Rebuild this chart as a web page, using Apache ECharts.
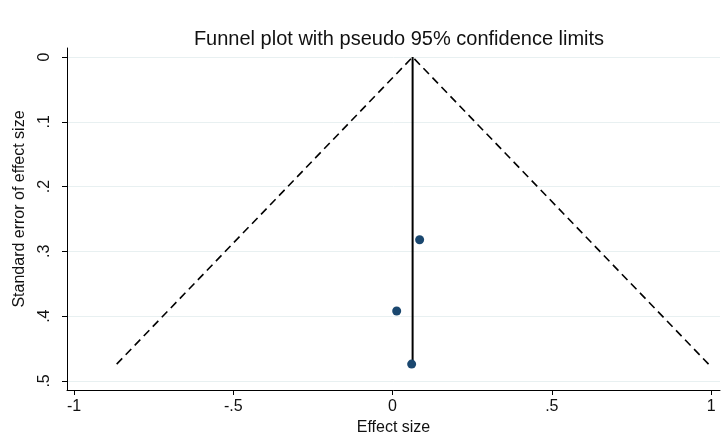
<!DOCTYPE html>
<html><head><meta charset="utf-8">
<script src="https://cdn.jsdelivr.net/npm/echarts@6/dist/echarts.min.js"></script>
<style>html,body{margin:0;padding:0;background:#fff}#c{width:725px;height:443px}</style>
</head><body><div id="c"></div>
<script>
const titleText = "Funnel plot with pseudo 95% confidence limits";
const xTicks = [-1, -0.5, 0, 0.5, 1];
const xTickLabels = ["-1", "-.5", "0", ".5", "1"];
const yTicks = [0, 0.1, 0.2, 0.3, 0.4, 0.5];
const yTickLabels = ["0", ".1", ".2", ".3", ".4", ".5"];
const studyEffect = [0.085, 0.013, 0.060];
const studySE = [0.282, 0.392, 0.474];
const pooled = 0.063;
const maxSE = 0.474;
const z = 1.96;

const font = "'Liberation Sans', Arial, sans-serif";
const limitLine = [[pooled - z*maxSE, maxSE], [pooled, 0], [pooled + z*maxSE, maxSE]];
const centerLine = [[pooled, 0], [pooled, maxSE]];
const points = studyEffect.map((v,i)=>[v, studySE[i]]);

const chart = echarts.init(document.getElementById('c'));
chart.setOption({
  animation:false,
  backgroundColor:'#fff',
  title:{text:titleText,left:394,textAlign:'center',top:24,textStyle:{fontFamily:font,fontSize:20,fontWeight:'normal',color:'#111'}},
  grid:{left:67,right:5,top:48,bottom:53},
  xAxis:{type:'value',min:-1.022,max:1.028,
    name:'Effect size',nameLocation:'middle',nameGap:27,
    nameTextStyle:{fontFamily:font,fontSize:16,color:'#111'},
    axisLine:{show:true,onZero:false,lineStyle:{color:'#000',width:1}},
    axisTick:{show:true,length:5,customValues:xTicks,lineStyle:{color:'#000'}},
    axisLabel:{customValues:xTicks,formatter:v=>xTickLabels[xTicks.findIndex(t=>Math.abs(t-v)<1e-9)],fontFamily:font,fontSize:16,color:'#111',margin:9},
    splitLine:{show:false}},
  yAxis:{type:'value',inverse:true,min:-0.014,max:0.514,
    name:'Standard error of effect size',nameLocation:'middle',nameGap:39,nameRotate:90,
    nameTextStyle:{fontFamily:font,fontSize:16,color:'#111',padding:[0,0,0,20]},
    axisLine:{show:true,onZero:false,lineStyle:{color:'#000',width:1}},
    axisTick:{show:true,length:5,customValues:yTicks,lineStyle:{color:'#000'}},
    axisLabel:{customValues:yTicks,rotate:90,formatter:v=>yTickLabels[yTicks.findIndex(t=>Math.abs(t-v)<1e-9)],fontFamily:font,fontSize:16,color:'#111',margin:14},
    splitLine:{show:true,lineStyle:{color:'#e8f0f1',width:1}}},
  series:[
    {type:'line',data:limitLine,symbol:'none',lineStyle:{color:'#000',width:1.6,type:[8,5]},z:2},
    {type:'line',data:centerLine,symbol:'none',lineStyle:{color:'#000',width:2},z:3},
    {type:'scatter',data:points,symbol:'circle',symbolSize:9,itemStyle:{color:'#1a476f',opacity:1},z:4}
  ]
});
</script></body></html>
